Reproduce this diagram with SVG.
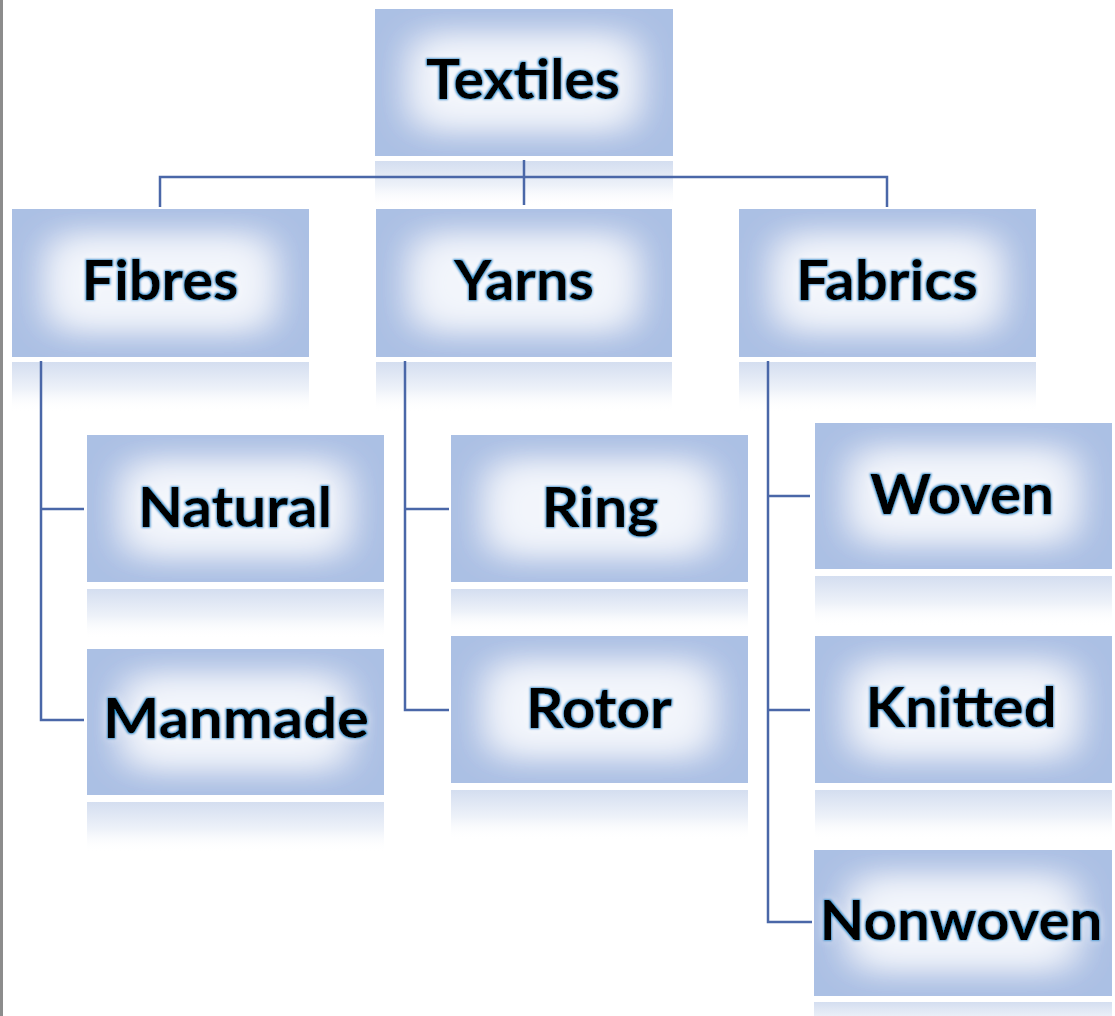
<svg xmlns="http://www.w3.org/2000/svg" width="1115" height="1016" viewBox="0 0 1115 1016">
  <defs>
    <!-- framed fill: pale blue edge, soft light centre -->
    <filter id="frame" x="0" y="0" width="100%" height="100%">
      <feMorphology in="SourceAlpha" operator="erode" radius="44 34" result="core"/>
      <feGaussianBlur in="core" stdDeviation="20 17" result="soft"/>
      <feFlood flood-color="#f2f5fb"/>
      <feComposite in2="soft" operator="in" result="light"/>
      <feComposite in="light" in2="SourceAlpha" operator="in" result="lightClip"/>
      <feMerge>
        <feMergeNode in="SourceGraphic"/>
        <feMergeNode in="lightClip"/>
        <feMergeNode in="lightClip"/>
      </feMerge>
    </filter>
    <!-- thin blue outline glow round the labels -->
    <filter id="glow" x="-10%" y="-20%" width="120%" height="140%">
      <feMorphology in="SourceAlpha" operator="dilate" radius="1" result="fat"/>
      <feGaussianBlur in="fat" stdDeviation="1" result="fatBlur"/>
      <feFlood flood-color="#2596d2"/>
      <feComposite in2="fatBlur" operator="in" result="rim"/>
      <feGaussianBlur in="SourceAlpha" stdDeviation="5" result="halo0"/>
      <feFlood flood-color="#ffffff" flood-opacity="0.7"/>
      <feComposite in2="halo0" operator="in" result="halo"/>
      <feMerge>
        <feMergeNode in="halo"/>
        <feMergeNode in="rim"/>
        <feMergeNode in="SourceGraphic"/>
      </feMerge>
    </filter>
    <linearGradient id="refl" x1="0" y1="0" x2="0" y2="1">
      <stop offset="0" stop-color="#d4def0"/>
      <stop offset="0.55" stop-color="#eef2f9"/>
      <stop offset="1" stop-color="#ffffff" stop-opacity="0"/>
    </linearGradient>
  </defs>
  <style>
    .box { fill: #abc0e4; filter: url(#frame); }
    .refl { fill: url(#refl); }
    .lbl { font-family: Lato, "Open Sans", "Liberation Sans", sans-serif; font-weight: bold; font-size: 56px; fill: #000; text-anchor: middle; filter: url(#glow); }
    .wire { fill: none; stroke: #4a67a8; stroke-width: 2.5; }
  </style>

  <rect width="1115" height="1016" fill="#ffffff"/>
  <rect x="0" y="0" width="3" height="1016" fill="#8c8c8c"/>

  <g id="textiles">
    <rect class="refl" x="375" y="161" width="298" height="46"/>
    <rect class="box" x="375" y="9" width="298" height="147"/>
    <text class="lbl" x="523" y="99" textLength="194" lengthAdjust="spacingAndGlyphs">Textiles</text>
  </g>

  <g id="fibres">
    <rect class="refl" x="12" y="362" width="297" height="50"/>
    <rect class="box" x="12" y="209" width="297" height="148"/>
    <text class="lbl" x="160" y="300" textLength="157" lengthAdjust="spacingAndGlyphs">Fibres</text>
  </g>

  <g id="yarns">
    <rect class="refl" x="376" y="362" width="296" height="50"/>
    <rect class="box" x="376" y="209" width="296" height="148"/>
    <text class="lbl" x="524" y="300" textLength="140" lengthAdjust="spacingAndGlyphs">Yarns</text>
  </g>

  <g id="fabrics">
    <rect class="refl" x="739" y="362" width="297" height="50"/>
    <rect class="box" x="739" y="209" width="297" height="148"/>
    <text class="lbl" x="887" y="300" textLength="182" lengthAdjust="spacingAndGlyphs">Fabrics</text>
  </g>

  <g id="natural">
    <rect class="refl" x="87" y="589" width="297" height="50"/>
    <rect class="box" x="87" y="435" width="297" height="147"/>
    <text class="lbl" x="235" y="527" textLength="194" lengthAdjust="spacingAndGlyphs">Natural</text>
  </g>

  <g id="manmade">
    <rect class="refl" x="87" y="802" width="297" height="50"/>
    <rect class="box" x="87" y="649" width="297" height="146"/>
    <text class="lbl" x="236" y="738" textLength="266" lengthAdjust="spacingAndGlyphs">Manmade</text>
  </g>

  <g id="ring">
    <rect class="refl" x="451" y="589" width="297" height="42"/>
    <rect class="box" x="451" y="435" width="297" height="147"/>
    <text class="lbl" x="600" y="527" textLength="117" lengthAdjust="spacingAndGlyphs">Ring</text>
  </g>

  <g id="rotor">
    <rect class="refl" x="451" y="790" width="297" height="50"/>
    <rect class="box" x="451" y="636" width="297" height="147"/>
    <text class="lbl" x="599" y="728" textLength="146" lengthAdjust="spacingAndGlyphs">Rotor</text>
  </g>

  <g id="woven">
    <rect class="refl" x="815" y="576" width="297" height="50"/>
    <rect class="box" x="815" y="423" width="297" height="146"/>
    <text class="lbl" x="962" y="514" textLength="184" lengthAdjust="spacingAndGlyphs">Woven</text>
  </g>

  <g id="knitted">
    <rect class="refl" x="815" y="790" width="297" height="50"/>
    <rect class="box" x="815" y="636" width="297" height="147"/>
    <text class="lbl" x="961" y="727" textLength="191" lengthAdjust="spacingAndGlyphs">Knitted</text>
  </g>

  <g id="nonwoven">
    <rect class="refl" x="814" y="1002" width="298" height="30"/>
    <rect class="box" x="814" y="850" width="298" height="146"/>
    <text class="lbl" x="961" y="940" textLength="283" lengthAdjust="spacingAndGlyphs">Nonwoven</text>
  </g>

  <!-- elbow connectors, drawn over the reflections -->
  <g id="connectors">
    <path class="wire" d="M524 160 V205 M160 207 V177 H887 V207"/>
    <path class="wire" d="M41 361 V720 H84 M41 509 H84"/>
    <path class="wire" d="M405 361 V710 H449 M405 509 H449"/>
    <path class="wire" d="M768 361 V922 H812 M768 496 H810 M768 710 H810"/>
  </g>
</svg>
